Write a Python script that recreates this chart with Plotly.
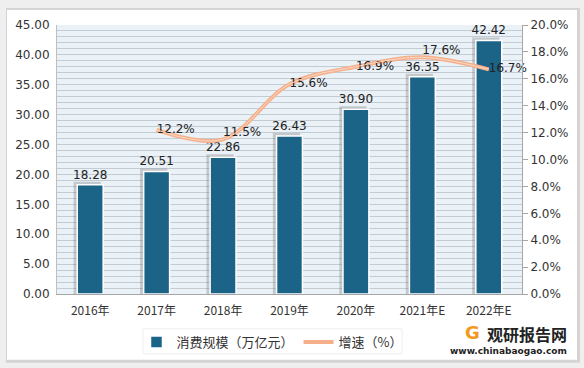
import plotly.graph_objects as go

years = ["2016年", "2017年", "2018年", "2019年", "2020年", "2021年E", "2022年E"]
scale = [18.28, 20.51, 22.86, 26.43, 30.90, 36.35, 42.42]
growth_years = ["2017年", "2018年", "2019年", "2020年", "2021年E", "2022年E"]
growth = [0.122, 0.115, 0.156, 0.169, 0.176, 0.167]
growth_pos = ["middle right", "top right", "middle right", "middle right", "top right", "middle right"]

W, H = 584, 368
L, R, T, B = 57, 62, 25, 73
pw, ph = W - L - R, H - T - B

def px(x):
    return (x - L) / pw

def py(y):
    return (H - B - y) / ph

FONT = "DejaVu Sans"
CJK = "Noto Sans CJK SC"
BAR = "#1B6387"

fig = go.Figure()

# soft shadow behind bars
fig.add_trace(go.Bar(
    x=years, y=[v + 0.5 for v in scale], width=0.41, offset=-0.25,
    marker=dict(color="rgba(80,80,80,0.25)", line=dict(width=0)),
    showlegend=False, hoverinfo="skip"))

fig.add_trace(go.Bar(
    x=years, y=scale, name="消费规模（万亿元）", width=0.39,
    marker=dict(color=BAR, line=dict(color="white", width=1.5)),
    text=[f"{v:.2f}" for v in scale], textposition="outside", constraintext="none",
    textfont=dict(family=FONT, size=12, color="#222"), cliponaxis=False))

fig.add_trace(go.Scatter(
    x=growth_years, y=growth, name="增速（%）", yaxis="y2", mode="lines+text",
    line=dict(color="#F5B08B", width=4, shape="spline", smoothing=1.0),
    text=[f"{v*100:.1f}%" for v in growth], textposition=growth_pos,
    textfont=dict(family=FONT, size=12, color="#222"), cliponaxis=False))

fig.add_trace(go.Scatter(
    x=growth_years, y=growth, yaxis="y2", mode="lines",
    line=dict(color="#FBD9C6", width=1, shape="spline", smoothing=1.0),
    showlegend=False, hoverinfo="skip"))

shapes = [
    # card shadow
    dict(type="rect", xref="paper", yref="paper", x0=px(6), x1=px(580), y0=py(364), y1=py(8),
         fillcolor="#D4D4D4", line=dict(width=0), layer="below"),
    dict(type="rect", xref="paper", yref="paper", x0=px(7), x1=px(577), y0=py(361), y1=py(10),
         fillcolor="white", line=dict(width=0), layer="below"),
    # plot area background
    dict(type="rect", xref="paper", yref="paper", x0=0, x1=1, y0=0, y1=1,
         fillcolor="#EAF1F7", line=dict(width=0), layer="below"),
    # legend box
    dict(type="rect", xref="paper", yref="paper", x0=px(143), x1=px(402), y0=py(355), y1=py(330),
         fillcolor="white", line=dict(color="#EEEEEE", width=1), layer="below"),
]

annotations = [
    dict(text="<b>观研报告网</b>", xref="paper", yref="paper", x=px(569), y=py(335),
         xanchor="right", yanchor="middle", showarrow=False,
         font=dict(family=CJK, size=16, color="#222")),
    dict(text="<b>www.chinabaogao.com</b>", xref="paper", yref="paper", x=px(569), y=py(352),
         xanchor="right", yanchor="middle", showarrow=False,
         font=dict(family=FONT, size=9, color="#222")),
    dict(text="<b>G</b>", xref="paper", yref="paper", x=px(472), y=py(334),
         xanchor="center", yanchor="middle", showarrow=False,
         font=dict(family=FONT, size=18, color="#F39A1E")),
]

fig.update_layout(
    width=W, height=H,
    margin=dict(l=L, r=R, t=T, b=B),
    paper_bgcolor="#EFEFEF", plot_bgcolor="rgba(0,0,0,0)",
    barmode="overlay", bargap=0.6,
    font=dict(family=FONT, size=12, color="#333"),
    xaxis=dict(type="category", showline=True, linecolor="#A6A6A6", linewidth=1,
               tickfont=dict(family=CJK, size=12, color="#333"), ticks="", showgrid=False,
               ticklabelstandoff=6),
    yaxis=dict(range=[0, 45], dtick=5, tickformat=".2f", showline=True, linecolor="#BFBFBF",
               showgrid=True, gridcolor="#C3CBD3", gridwidth=1, zeroline=False,
               minor=dict(dtick=1, showgrid=True, gridcolor="#C3CBD3", gridwidth=1),
               tickfont=dict(family=FONT, size=12, color="#333"), ticklen=0,
               ticklabelstandoff=4),
    yaxis2=dict(range=[0, 0.2], dtick=0.02, tickformat=".1%", overlaying="y", side="right",
                showline=True, linecolor="#A6A6A6", ticks="outside", ticklen=5, tickcolor="#A6A6A6",
                showgrid=False, zeroline=False,
                tickfont=dict(family=FONT, size=12, color="#333")),
    legend=dict(orientation="h", x=px(272), y=py(342), xanchor="center", yanchor="middle",
                bgcolor="rgba(0,0,0,0)", font=dict(family=CJK, size=13, color="#333"),
                traceorder="normal"),
    shapes=shapes, annotations=annotations,
)

fig.write_html("out.html", config={"displayModeBar": False},
               post_script="document.body.style.margin='0';")
